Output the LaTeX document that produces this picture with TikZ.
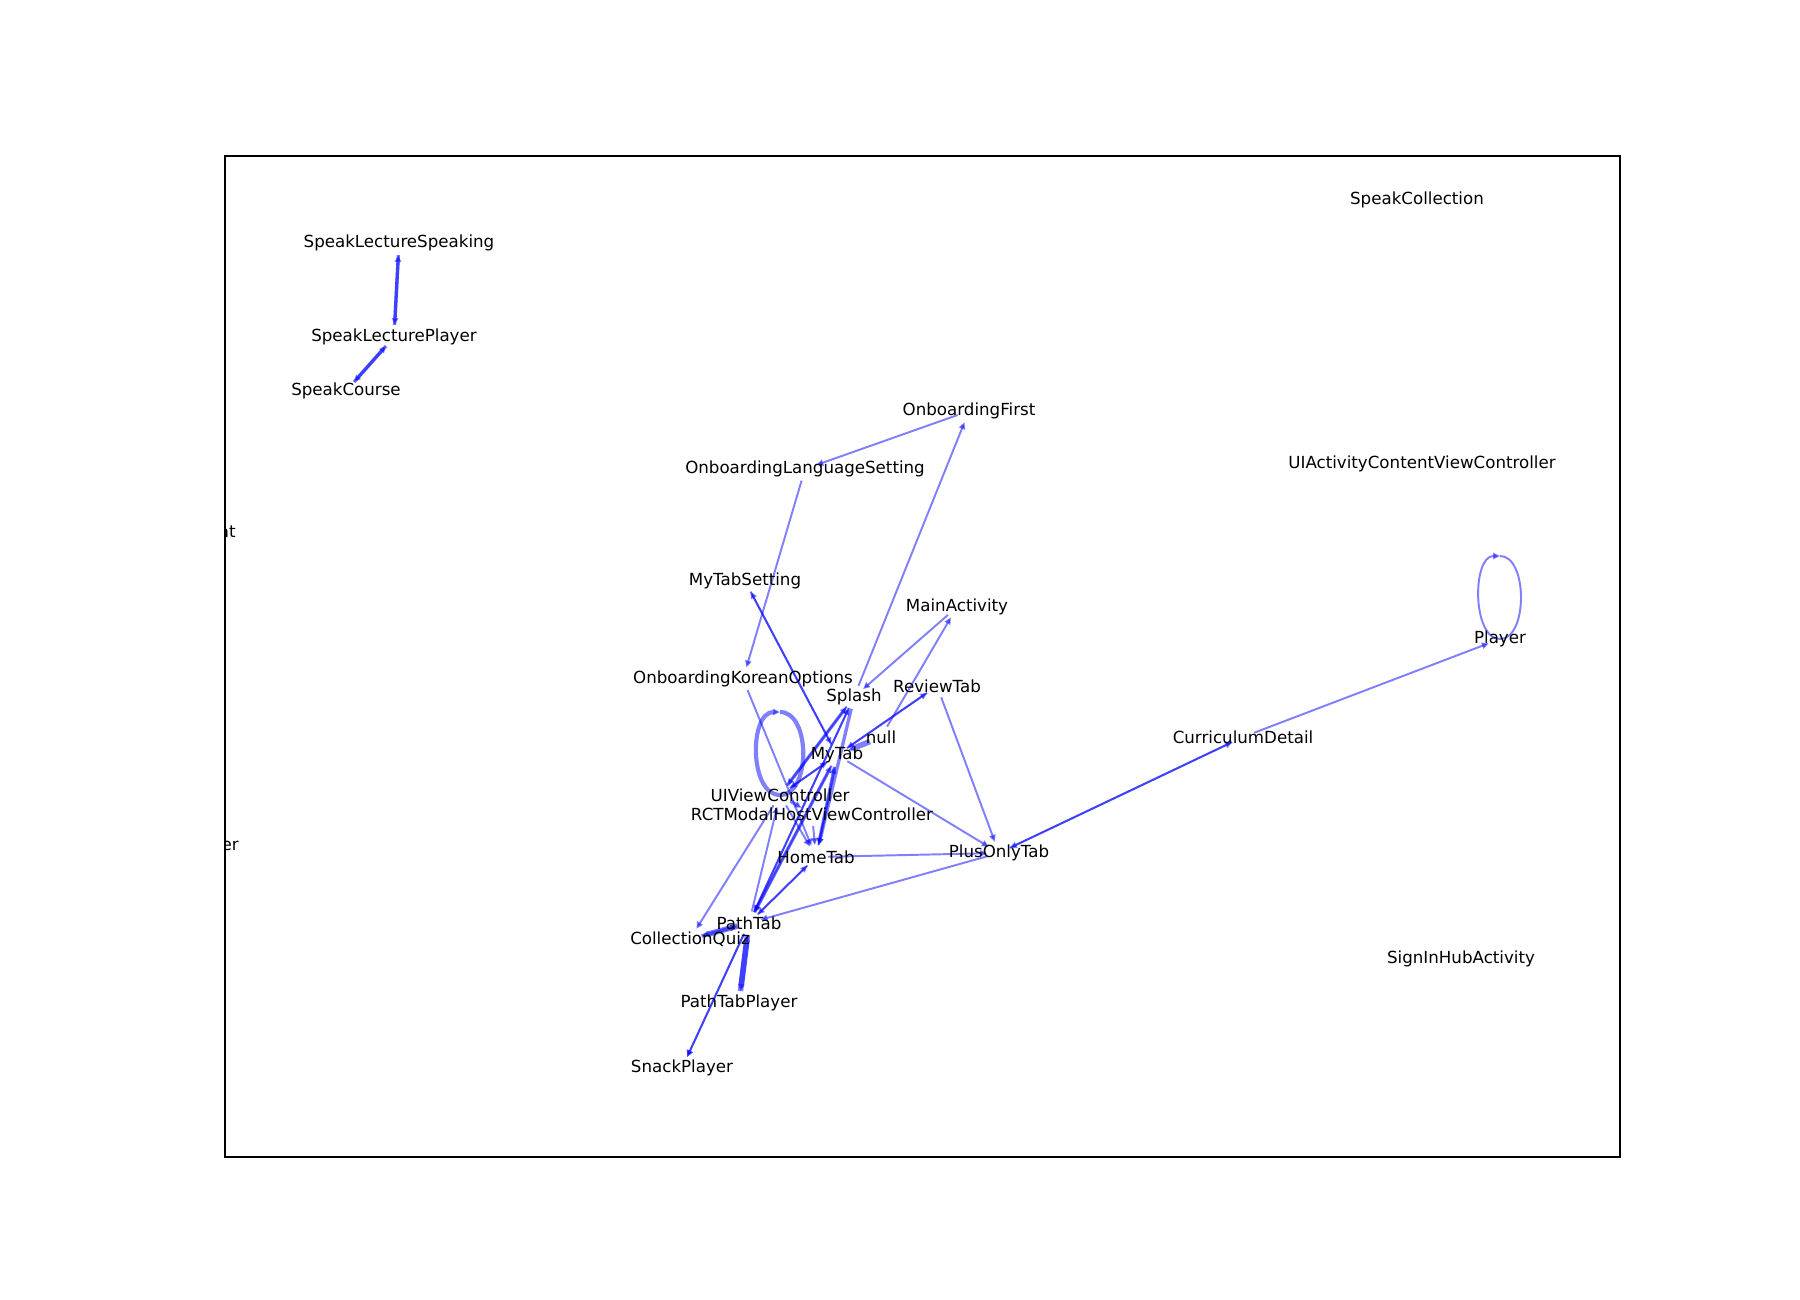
\documentclass[tikz,border=0pt]{standalone}
\usepackage{fontspec}
\setmainfont{DejaVu Sans}
\usepackage{tikz}
\usetikzlibrary{arrows.meta,calc,backgrounds}

\begin{document}
\begin{tikzpicture}[x=0.72pt, y=-0.72pt, >={Triangle[length=5pt,width=4.5pt]},
  lbl/.style={font=\fontsize{12}{14}\selectfont, inner sep=0pt},
  thinlink/.style={->, draw=blue, opacity=0.5, line width=1.4pt, shorten <=8.66pt, shorten >=8.66pt},
  widelink/.style={thinlink, line width=2.4pt},
  heavylink/.style={thinlink, line width=4pt}]
%
\useasboundingbox (0,0) rectangle (1800,1300);
\draw[line width=0.8pt] (225,156) rectangle (1620,1157);
%
\begin{scope}
\clip (225,156) rectangle (1620,1157);
\node (SpeakCollection) [lbl] at (1417,200) {SpeakCollection};
\node (SpeakLectureSpeaking) [lbl] at (399,243) {SpeakLectureSpeaking};
\node (SpeakLecturePlayer) [lbl] at (394,337) {SpeakLecturePlayer};
\node (SpeakCourse) [lbl] at (346,391) {SpeakCourse};
\node (OnboardingFirst) [lbl] at (969,411) {OnboardingFirst};
\node (OnboardingLanguageSetting) [lbl] at (805,469) {OnboardingLanguageSetting};
\node (UIActivityContentViewController) [lbl] at (1422,464) {UIActivityContentViewController};
\node (ClipAt) [lbl, anchor=east] at (236,532) {at};
\node (MyTabSetting) [lbl] at (745,581) {MyTabSetting};
\node (MainActivity) [lbl] at (957,607) {MainActivity};
\node (Player) [lbl] at (1500,639) {Player};
\node (OnboardingKoreanOptions) [lbl] at (743,679) {OnboardingKoreanOptions};
\node (ReviewTab) [lbl] at (937,686) {ReviewTab};
\node (Splash) [lbl] at (854,697) {Splash};
\node (Null) [lbl] at (881,737) {null};
\node (CurriculumDetail) [lbl] at (1243,737) {CurriculumDetail};
\node (MyTab) [lbl] at (837,755) {MyTab};
\node (UIViewController) [lbl] at (780,795) {UIViewController};
\node (RCTModalHostViewController) [lbl] at (812,814) {RCTModalHostViewController};
\node (ClipEr) [lbl, anchor=east] at (239,846) {er};
\node (HomeTab) [lbl] at (816,857) {HomeTab};
\node (PlusOnlyTab) [lbl] at (999,853) {PlusOnlyTab};
\node (PathTab) [lbl] at (749,923) {PathTab};
\node (CollectionQuiz) [lbl] at (690,939) {CollectionQuiz};
\node (SignInHubActivity) [lbl] at (1461,959) {SignInHubActivity};
\node (PathTabPlayer) [lbl] at (739,1003) {PathTabPlayer};
\node (SnackPlayer) [lbl] at (682,1068) {SnackPlayer};
\end{scope}
%
\begin{scope}[on background layer]
\path (SpeakLectureSpeaking.center) edge[widelink] (SpeakLecturePlayer.center);
\path (SpeakLecturePlayer.center) edge[widelink] (SpeakLectureSpeaking.center);
\path (SpeakCourse.center) edge[widelink] (SpeakLecturePlayer.center);
\path (SpeakLecturePlayer.center) edge[widelink] (SpeakCourse.center);
%
\path (OnboardingFirst.center) edge[thinlink] (OnboardingLanguageSetting.center);
\path (OnboardingLanguageSetting.center) edge[thinlink] (OnboardingKoreanOptions.center);
\path (Splash.center) edge[thinlink] (OnboardingFirst.center);
\path (MyTab.center) edge[thinlink] (MyTabSetting.center);
\path (MyTabSetting.center) edge[thinlink] (MyTab.center);
\path (MainActivity.center) edge[thinlink] (Splash.center);
\path (Null.center) edge[thinlink] (MainActivity.center);
\path (Null.center) edge[heavylink] (MyTab.center);
\path (MyTab.center) edge[thinlink] (ReviewTab.center);
\path (ReviewTab.center) edge[thinlink] (MyTab.center);
\path (ReviewTab.center) edge[thinlink] (PlusOnlyTab.center);
\path (MyTab.center) edge[thinlink] (PlusOnlyTab.center);
\path (HomeTab.center) edge[thinlink] (PlusOnlyTab.center);
\path (PlusOnlyTab.center) edge[thinlink] (PathTab.center);
\path (PlusOnlyTab.center) edge[thinlink] (CurriculumDetail.center);
\path (CurriculumDetail.center) edge[thinlink] (PlusOnlyTab.center);
\path (CurriculumDetail.center) edge[thinlink] (Player.center);
%
\path (OnboardingKoreanOptions.center) edge[thinlink] (HomeTab.center);
\path (UIViewController.center) edge[thinlink] (CollectionQuiz.center);
\path (PathTab.center) edge[thinlink] (SnackPlayer.center);
\path (PathTab.center) edge[thinlink] (SnackPlayer.center);
\path (PathTab.center) edge[heavylink] (PathTabPlayer.center);
\path (PathTabPlayer.center) edge[heavylink] (PathTab.center);
\path (PathTab.center) edge[heavylink] (CollectionQuiz.center);
\path (CollectionQuiz.center) edge[widelink] (PathTab.center);
\path (PathTab.center) edge[thinlink] (HomeTab.center);
\path (HomeTab.center) edge[thinlink] (PathTab.center);
%
\path (UIViewController.center) edge[widelink] (Splash.center);
\path (Splash.center) edge[thinlink] (UIViewController.center);
\path (Splash.center) edge[widelink] (HomeTab.center);
\path (Splash.center) edge[thinlink] (PathTab.center);
\path (PathTab.center) edge[thinlink] (Splash.center);
\path (UIViewController.center) edge[thinlink] (MyTab.center);
\path (MyTab.center) edge[thinlink] (UIViewController.center);
\path (MyTab.center) edge[widelink] (HomeTab.center);
\path (HomeTab.center) edge[thinlink] (MyTab.center);
\path (PathTab.center) edge[widelink] (MyTab.center);
\path (MyTab.center) edge[thinlink] (PathTab.center);
\path (UIViewController.center) edge[widelink] (RCTModalHostViewController.center);
\path (RCTModalHostViewController.center) edge[thinlink] (HomeTab.center);
\path (UIViewController.center) edge[thinlink] (HomeTab.center);
\path (PathTab.center) edge[thinlink] (UIViewController.center);
%
\draw[thinlink, shorten <=0pt, shorten >=0pt] ($(Player.center)+(0,-83)$)
  .. controls ($(Player.center)+(28,-83)$) and ($(Player.center)+(28,0)$) .. (Player.center)
  .. controls ($(Player.center)+(-28,0)$) and ($(Player.center)+(-28,-83)$) .. ($(Player.center)+(0,-83)$);
\draw[widelink, line width=3pt, shorten <=0pt, shorten >=0pt] ($(UIViewController.center)+(0,-83)$)
  .. controls ($(UIViewController.center)+(31,-83)$) and ($(UIViewController.center)+(31,0)$) .. (UIViewController.center)
  .. controls ($(UIViewController.center)+(-31,0)$) and ($(UIViewController.center)+(-31,-83)$) .. ($(UIViewController.center)+(0,-83)$);
\end{scope}
\end{tikzpicture}
\end{document}
